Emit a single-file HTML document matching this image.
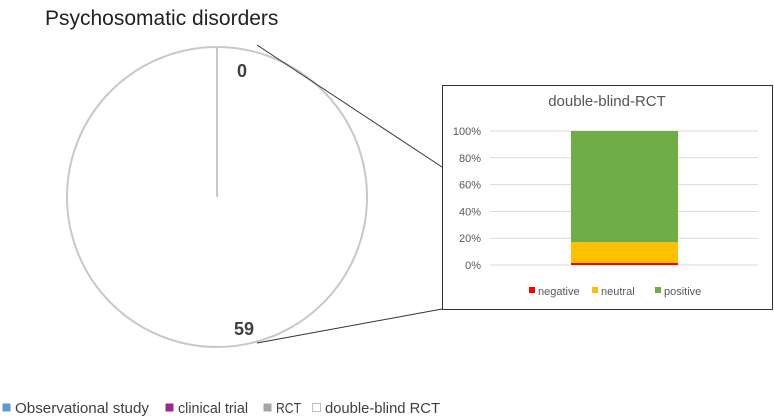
<!DOCTYPE html>
<html><head><meta charset="utf-8"><style>
body{margin:0;background:#fff;width:774px;height:417px;overflow:hidden;font-family:"Liberation Sans",sans-serif}
</style></head><body>
<svg width="774" height="417" style="position:absolute;left:0;top:0">
<text x="45" y="25" font-size="21" fill="#222">Psychosomatic disorders</text>
<g id="pie"></g>
<line x1="257" y1="45" x2="442" y2="167" stroke="#333" stroke-width="1"/>
<line x1="257" y1="343" x2="442" y2="309" stroke="#333" stroke-width="1"/>
<rect x="442.5" y="85.5" width="330" height="224" fill="#fff" stroke="#333" stroke-width="1"/>
<text x="607" y="106" text-anchor="middle" font-size="15" fill="#555">double-blind-RCT</text>
<g id="bar"></g>
<g id="legend"></g>
</svg>
<script>
const NS="http://www.w3.org/2000/svg";
function mk(t,a,p){const e=document.createElementNS(NS,t);for(const k in a)e.setAttribute(k,a[k]);p.appendChild(e);return e;}
// pie data
const pieCats=["Observational study","clinical trial","RCT","double-blind RCT"];
const pieVals=[0,0,0,59];
const pieColors=["#5b9bd5","#a0288c","#a5a5a5","#ffffff"];
// bar data
const barCats=["negative","neutral","positive"];
const barVals=[1.5,15.5,83];
const barColors=["#ff0000","#ffc000","#70ad47"];
const yTicks=[0,20,40,60,80,100];

const pie=document.getElementById('pie');
const cx=217,cy=197,r=150;
const c=mk('circle',{cx:cx,cy:cy,r:r,fill:'#fff',stroke:'#c8c8c8','stroke-width':2},pie);


const ln=mk('line',{x1:cx,y1:cy,x2:cx,y2:cy-r,stroke:'#c8c8c8','stroke-width':2},pie);


const l0=mk('text',{x:242,y:77,'text-anchor':'middle','font-size':18,'font-weight':'bold',fill:'#404040'},pie);
l0.textContent=pieVals[0]+pieVals[1]+pieVals[2];


const l1=mk('text',{x:244,y:335,'text-anchor':'middle','font-size':18,'font-weight':'bold',fill:'#404040'},pie);
l1.textContent=pieVals[3];



// bar chart
const bar=document.getElementById('bar');
const x0=490,x1=758,yb=265,yt=131;
const ys=v=>yb-(v/100)*(yb-yt);
yTicks.forEach(t=>{
 const g=mk('line',{x1:x0,x2:x1,y1:ys(t),y2:ys(t),stroke:'#d9d9d9','stroke-width':1},bar);
 
 
 const tx=mk('text',{x:481,y:ys(t)+4,'text-anchor':'end','font-size':11,fill:'#595959'},bar);
 tx.textContent=t+'%';
 
 
});
let acc=0;
barVals.forEach((v,i)=>{
 const rc=mk('rect',{x:571,width:107,y:ys(acc+v),height:ys(acc)-ys(acc+v),fill:barColors[i]},bar);
 
 
 acc+=v;
});
let lx=529;
barCats.forEach((n,i)=>{
 const s=mk('rect',{x:lx,y:287,width:6,height:6,fill:barColors[i]},bar);
 
 
 const t=mk('text',{x:lx+9,y:295,'font-size':11,fill:'#595959'},bar);
 t.textContent=n;
 
 
 lx+= [63,63,0][i];
});

// pie legend
const lg=document.getElementById('legend');
const lxs=[2,165,263,312];
pieCats.forEach((n,i)=>{
 const s=mk('rect',{x:lxs[i]+0.5,y:403.5,width:8,height:8,fill:pieColors[i],stroke:i==3?'#bfbfbf':'none'},lg);
 
 
 const t=mk('text',{x:lxs[i]+13,y:413,'font-size':15,fill:'#404040',textLength:[134,70,25,115][i],lengthAdjust:'spacingAndGlyphs'},lg);
 t.textContent=n;
 
 
});
</script>
</body></html>
